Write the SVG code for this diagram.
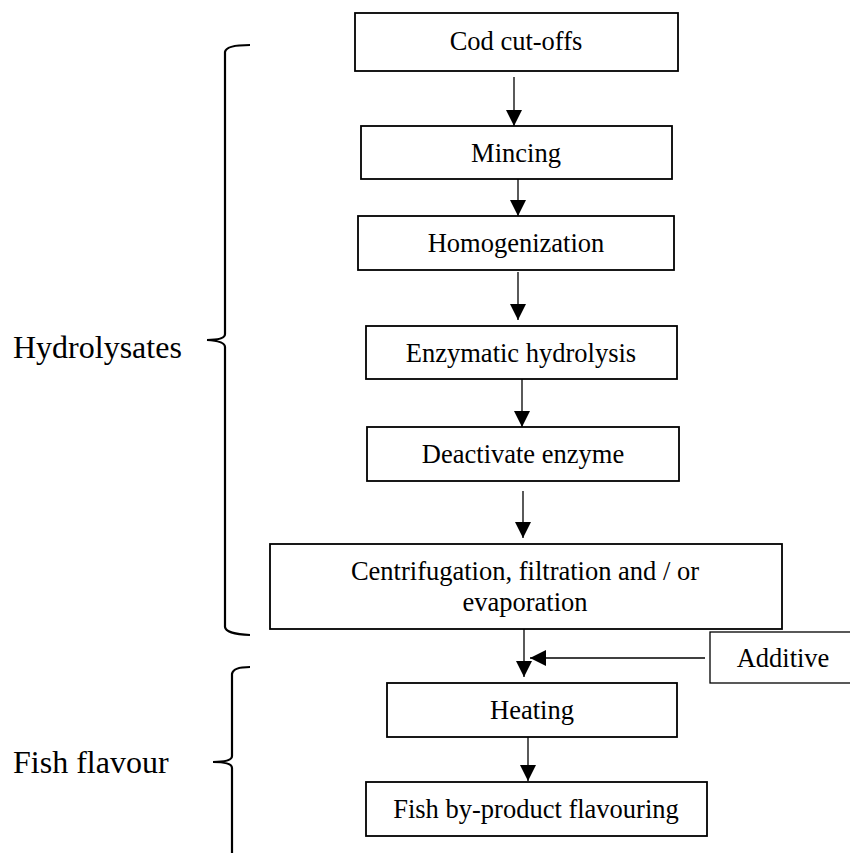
<svg xmlns="http://www.w3.org/2000/svg" width="850" height="853" viewBox="0 0 850 853">
<style>
.box{fill:#fff;stroke:#000;stroke-width:1.8}
.thin{stroke-width:1.3}
.t{font-family:"Liberation Serif","Times New Roman",serif;font-size:26.5px;fill:#000;text-anchor:middle}
.lbl{font-family:"Liberation Serif","Times New Roman",serif;font-size:32px;fill:#000}
.conn{stroke:#000;stroke-width:1.3;fill:none;marker-end:url(#ah)}
.brace{stroke:#000;stroke-width:2.2;fill:none}
</style>
<defs>
<marker id="ah" markerUnits="userSpaceOnUse" markerWidth="16" markerHeight="16" refX="16" refY="8" orient="auto">
<path d="M0,0 L16,8 L0,16 z" fill="#000"/>
</marker>
</defs>
<rect width="850" height="853" fill="#fff"/>
<g id="connectors">
<line class="conn" x1="514" y1="77" x2="514" y2="126"/>
<line class="conn" x1="518" y1="179" x2="518" y2="216"/>
<line class="conn" x1="518" y1="272" x2="518" y2="320"/>
<line class="conn" x1="522" y1="379" x2="522" y2="427"/>
<line class="conn" x1="523" y1="491" x2="523" y2="538"/>
<line class="conn" x1="524" y1="628" x2="524" y2="677"/>
<line class="conn" x1="705" y1="658" x2="530" y2="658"/>
<line class="conn" x1="528" y1="734" x2="528" y2="781"/>
</g>
<g id="brace-hydrolysates">
<path class="brace" d="M250,45 Q226,45 225,52 L225,334 Q225,340 207,340 Q225,341 225,347 L225,627 Q226,634 250,635"/>
<text class="lbl" x="13" y="358">Hydrolysates</text>
</g>
<g id="brace-fish-flavour">
<path class="brace" d="M250,667 Q233,667 232,674 L232,756 Q232,762 213,762 Q232,762 232,768 L232,860"/>
<text class="lbl" x="13" y="773">Fish flavour</text>
</g>
<g id="n-cod"><rect class="box" x="355" y="13" width="323" height="58"/><text class="t" x="516" y="50">Cod cut-offs</text></g>
<g id="n-mincing"><rect class="box" x="361" y="126" width="311" height="53"/><text class="t" x="516" y="162">Mincing</text></g>
<g id="n-homogenization"><rect class="box" x="358" y="216" width="316" height="54"/><text class="t" x="516" y="252">Homogenization</text></g>
<g id="n-enzymatic"><rect class="box" x="366" y="326" width="311" height="53"/><text class="t" x="521" y="362">Enzymatic hydrolysis</text></g>
<g id="n-deactivate"><rect class="box" x="367" y="427" width="312" height="54"/><text class="t" x="523" y="463">Deactivate enzyme</text></g>
<g id="n-centrifugation"><rect class="box" x="270" y="544" width="512" height="85"/><text class="t" x="525" y="580">Centrifugation, filtration and / or</text><text class="t" x="525" y="611">evaporation</text></g>
<g id="n-additive"><rect class="box thin" x="710" y="632" width="145" height="51"/><text class="t" x="783" y="667">Additive</text></g>
<g id="n-heating"><rect class="box" x="387" y="683" width="290" height="54"/><text class="t" x="532" y="719">Heating</text></g>
<g id="n-fish"><rect class="box" x="366" y="782" width="341" height="54"/><text class="t" x="536" y="818">Fish by-product flavouring</text></g>
</svg>
